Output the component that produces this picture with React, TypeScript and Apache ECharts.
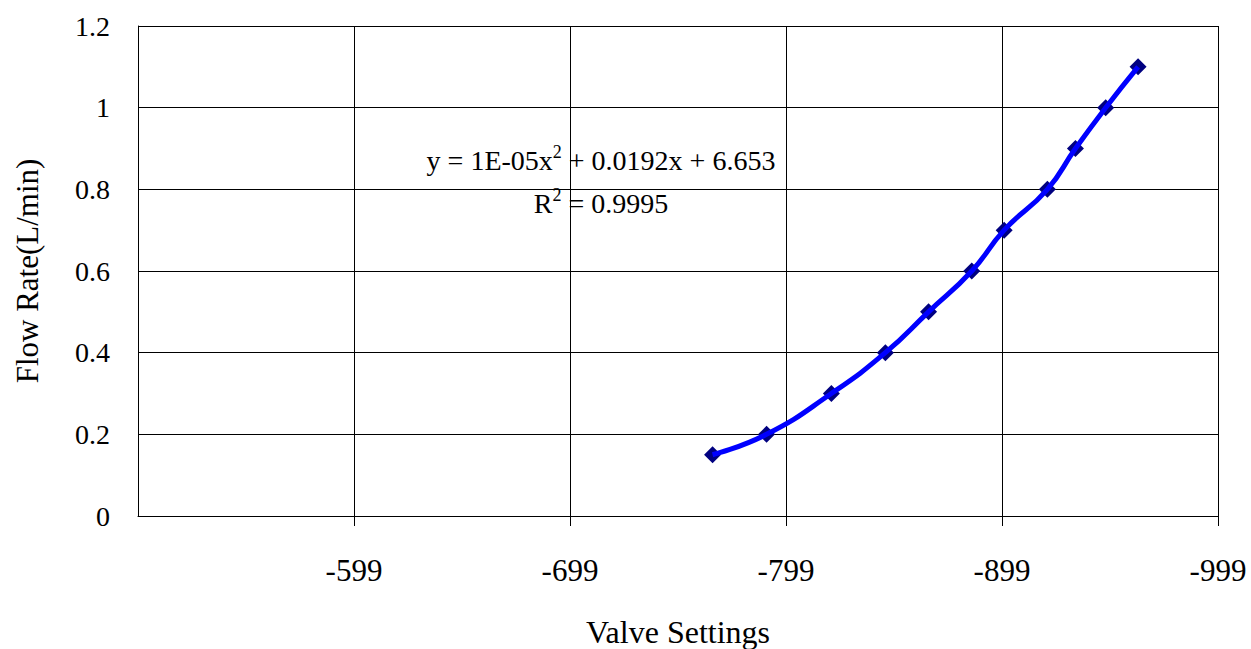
import React, { useEffect, useRef } from "react";
import * as echarts from "echarts";

// Data
const valveSettings = [-765, -790, -820, -845, -865, -885, -900, -920, -933, -947, -962];
const flowRates = [0.15, 0.2, 0.3, 0.4, 0.5, 0.6, 0.7, 0.8, 0.9, 1.0, 1.1];
const xTickValues = [-599, -699, -799, -899, -999];
const xAxisTitle = "Valve Settings";
const yAxisTitle = "Flow Rate(L/min)";
const eqParts = ["y = 1E-05x", "2", " + 0.0192x + 6.653"];
const r2Parts = ["R", "2", " = 0.9995"];

const FONT = "'Liberation Serif', 'Times New Roman', serif";

export default function App() {
  const ref = useRef<HTMLDivElement>(null);

  useEffect(() => {
    if (!ref.current) return;
    const chart = echarts.init(ref.current, undefined, { renderer: "svg" });
    const points = valveSettings.map((x, i) => [x, flowRates[i]]);

    const richStyles = {
      n: { fontFamily: FONT, fontSize: 28, color: "#000", lineHeight: 34 },
      s: { fontFamily: FONT, fontSize: 18, color: "#000", lineHeight: 34, verticalAlign: "top" as const, padding: [0, 0, 12, 0] },
    };

    chart.setOption({
      animation: false,
      backgroundColor: "#fff",
      grid: { left: 138, right: 33, top: 26, bottom: 133, containLabel: false, outerBoundsMode: "none" },
      xAxis: {
        type: "value",
        min: -999,
        max: -499,
        inverse: true,
        name: xAxisTitle,
        nameLocation: "middle",
        nameGap: 100,
        nameTextStyle: { fontFamily: FONT, fontSize: 32, color: "#000" },
        axisLine: { show: true, lineStyle: { color: "#000", width: 1 } },
        axisTick: { show: true, length: 10, customValues: xTickValues, lineStyle: { color: "#000" } },
        axisLabel: {
          customValues: xTickValues,
          fontFamily: FONT,
          fontSize: 31,
          color: "#000",
          margin: 39,
        },
        splitLine: { show: true, lineStyle: { color: "#000", width: 1 } },
      },
      yAxis: {
        type: "value",
        min: 0,
        max: 1.2,
        interval: 0.2,
        name: yAxisTitle,
        nameLocation: "middle",
        nameGap: 95,
        nameTextStyle: { fontFamily: FONT, fontSize: 31, color: "#000" },
        axisLine: { show: true, lineStyle: { color: "#000", width: 1 } },
        axisTick: { show: false },
        axisLabel: { fontFamily: FONT, fontSize: 28, color: "#000", margin: 28 },
        splitLine: { show: true, lineStyle: { color: "#000", width: 1 } },
      },
      graphic: [
        {
          type: "group",
          z: 50,
          children: [
            {
              type: "rect",
              shape: { x: 425, y: 140, width: 353, height: 93 },
              style: { fill: "#fff" },
            },
            {
              type: "text",
              x: 601,
              y: 160,
              style: {
                text: `{n|${eqParts[0]}}{s|${eqParts[1]}}{n|${eqParts[2]}}`,
                rich: richStyles,
                align: "center",
                verticalAlign: "middle",
              },
            },
            {
              type: "text",
              x: 601,
              y: 203,
              style: {
                text: `{n|${r2Parts[0]}}{s|${r2Parts[1]}}{n|${r2Parts[2]}}`,
                rich: richStyles,
                align: "center",
                verticalAlign: "middle",
              },
            },
          ],
        },
      ],
      series: [
        {
          type: "scatter",
          data: points,
          symbol: "diamond",
          symbolSize: 17,
          itemStyle: { color: "#000080", opacity: 1 },
          z: 3,
        },
        {
          type: "line",
          data: points,
          smooth: 0.5,
          showSymbol: false,
          symbol: "none",
          lineStyle: { color: "#0000ff", width: 5 },
          z: 4,
        },
      ],
    });

    return () => chart.dispose();
  }, []);

  return (
    <div
      ref={ref}
      style={{ position: "fixed", left: 0, top: 0, width: 1251, height: 649, background: "#fff" }}
    />
  );
}
